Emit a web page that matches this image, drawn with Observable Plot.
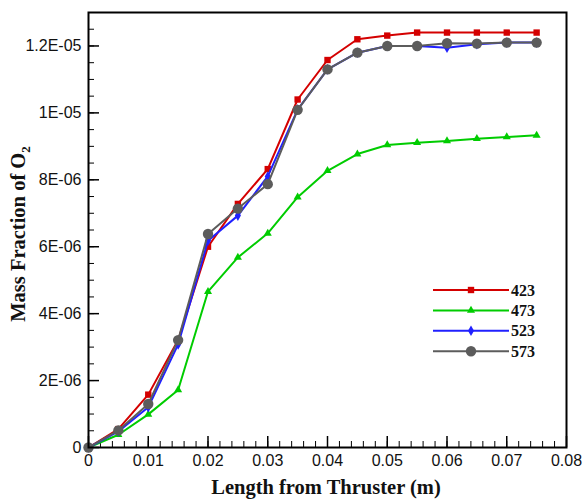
<!DOCTYPE html>
<html><head><meta charset="utf-8">
<script src="https://cdn.jsdelivr.net/npm/d3@7"></script>
<script src="https://cdn.jsdelivr.net/npm/@observablehq/plot@0.6"></script>
<style>body{margin:0;background:#fff} #chart{position:relative;width:584px;height:500px}</style>
</head><body><div id="chart"></div>
<script>
// ---- data ----
const lengths = [0,0.005,0.01,0.015,0.02,0.025,0.03,0.035,0.04,0.045,0.05,0.055,0.06,0.065,0.07,0.075];
const seriesNames = ["423","473","523","573"];
const s423 = [0,0.55e-6,1.58e-6,3.21e-6,6.0e-6,7.28e-6,8.32e-6,10.4e-6,11.58e-6,12.2e-6,12.31e-6,12.4e-6,12.4e-6,12.4e-6,12.4e-6,12.4e-6];
const s473 = [0,0.38e-6,0.99e-6,1.72e-6,4.66e-6,5.68e-6,6.4e-6,7.48e-6,8.27e-6,8.77e-6,9.04e-6,9.11e-6,9.16e-6,9.23e-6,9.28e-6,9.33e-6];
const s523 = [0,0.48e-6,1.2e-6,3.08e-6,6.18e-6,6.93e-6,8.1e-6,10.1e-6,11.3e-6,11.8e-6,12.0e-6,12.0e-6,11.95e-6,12.05e-6,12.1e-6,12.1e-6];
const s573 = [0,0.51e-6,1.3e-6,3.21e-6,6.38e-6,7.14e-6,7.87e-6,10.09e-6,11.3e-6,11.8e-6,12.0e-6,12.0e-6,12.08e-6,12.07e-6,12.1e-6,12.1e-6];
const xTicks = [0,0.01,0.02,0.03,0.04,0.05,0.06,0.07,0.08];
const xTickLabels = ["0","0.01","0.02","0.03","0.04","0.05","0.06","0.07","0.08"];
const yTicks = [0,2e-6,4e-6,6e-6,8e-6,1e-5,1.2e-5];
const yTickLabels = ["0","2E-06","4E-06","6E-06","8E-06","1E-05","1.2E-05"];
const xLabel = "Length from Thruster (m)";
const yLabelMain = "Mass Fraction of O";
const yLabelSub = "2";

// ---- styles ----
const colors = ["#d40000","#00cc00","#2020ff","#5c5c5c"];
const symbols = ["square","triangle","diamond","circle"];
const radii = [3.6,3.0,3.2,5.2];
const allSeries = [s423,s473,s523,s573];

const W = 584, H = 500, ML = 88, MR = 18, MT = 12, MB = 53;
const innerW = W - ML - MR, innerH = H - MT - MB;
const majorLen = 11, minorLen = 6;

const xMinor = d3.range(0,41).map(i=>i*0.002);
const yMinor = d3.range(0,27).map(i=>i*5e-7);

const rows = seriesNames.map((name,k)=>lengths.map((x,i)=>({x, y: allSeries[k][i], series:name})));

const marks = [
  // inward ticks
  Plot.tickX(xMinor, {x: d=>d, insetTop: innerH - minorLen, stroke:"black"}),
  Plot.tickX(xTicks, {x: d=>d, insetTop: innerH - majorLen, stroke:"black", strokeWidth:1.5}),
  Plot.tickY(yMinor, {y: d=>d, insetRight: innerW - minorLen, stroke:"black"}),
  Plot.tickY(yTicks, {y: d=>d, insetRight: innerW - majorLen, stroke:"black", strokeWidth:1.5}),
  // labels
  Plot.axisX({ticks: xTicks, tickSize: 0, tickPadding: 7, tickFormat: d => xTickLabels[xTicks.indexOf(d)], label: null}),
  Plot.axisY({ticks: yTicks, tickSize: 0, tickPadding: 7, tickFormat: d => yTickLabels[yTicks.indexOf(d)], label: null}),
];
rows.forEach((data,k)=>{
  marks.push(Plot.line(data,{x:"x",y:"y",stroke:colors[k],strokeWidth:2}));
  marks.push(Plot.dot(data,{x:"x",y:"y",fill:colors[k],symbol:()=>symbols[k],r:radii[k]}));
});
marks.push(Plot.frame({stroke:"black",strokeWidth:2}));

const plot = Plot.plot({
  width:W, height:H,
  marginLeft:ML, marginRight:MR, marginTop:MT, marginBottom:MB,
  style:{fontFamily:"'Liberation Sans', Arial, sans-serif", fontSize:"16px", color:"#111", background:"white", overflow:"visible"},
  x:{domain:[0,0.08]},
  y:{domain:[0,1.3e-5]},
  symbol:{type:"identity"},
  marks
});
document.getElementById("chart").appendChild(plot);

const svg = d3.select(plot);
// axis titles
svg.append("text")
  .attr("x",326).attr("y",494)
  .attr("text-anchor","middle")
  .attr("font-family","'Liberation Serif','Times New Roman',serif")
  .attr("font-weight","bold").attr("font-size",20.5).attr("fill","#111")
  .text(xLabel);
const yt = svg.append("text")
  .attr("transform","translate(25,234) rotate(-90)")
  .attr("text-anchor","middle")
  .attr("font-family","'Liberation Serif','Times New Roman',serif")
  .attr("font-weight","bold").attr("font-size",20.5).attr("fill","#111");
yt.append("tspan").text(yLabelMain);
yt.append("tspan").attr("dy",5).attr("font-size",13).text(yLabelSub);

// legend
const lg = svg.append("g");
const symMap = {square:d3.symbolSquare, triangle:d3.symbolTriangle, diamond:d3.symbolDiamond, circle:d3.symbolCircle};
seriesNames.forEach((name,k)=>{
  const y = 290 + k*20.4;
  lg.append("line").attr("x1",433).attr("x2",509).attr("y1",y).attr("y2",y).attr("stroke",colors[k]).attr("stroke-width",2);
  lg.append("path").attr("transform",`translate(471,${y})`).attr("d",d3.symbol(symMap[symbols[k]], Math.PI*radii[k]*radii[k])()).attr("fill",colors[k]);
  lg.append("text").attr("x",523).attr("y",y+5.5)
    .attr("font-family","'Liberation Serif','Times New Roman',serif")
    .attr("font-weight","bold").attr("font-size",16).attr("fill","#111").text(name);
});
</script>
</body></html>
